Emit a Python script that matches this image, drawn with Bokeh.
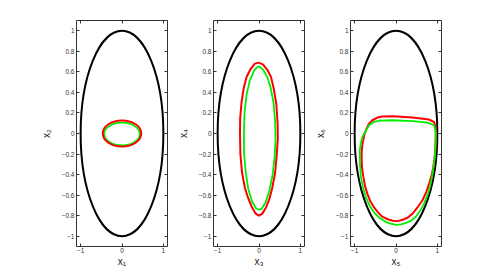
from bokeh.plotting import figure
from bokeh.layouts import row
from bokeh.models import LinearAxis, FixedTicker, Range1d, CustomJSTickFormatter
from bokeh.embed import file_html
from bokeh.resources import INLINE

# ---- data ----
x_ticks = [-1, 0, 1]
x_tick_labels = ["\u22121", "0", "1"]
y_ticks = [-1, -0.8, -0.6, -0.4, -0.2, 0, 0.2, 0.4, 0.6, 0.8, 1]
y_tick_labels = ["\u22121", "\u22120.8", "\u22120.6", "\u22120.4", "\u22120.2", "0",
                 "0.2", "0.4", "0.6", "0.8", "1"]

x_labels = ["x\u2081", "x\u2083", "x\u2085"]
y_labels = ["x\u2082", "x\u2084", "x\u2086"]

# outer (black) ellipse: full width, full height
outer_w = 2.0
outer_h = 2.0

# panel 1: red and green ellipses (center x, center y, width, height)
p1_red = dict(x=[0.0], y=[0.0], w=[0.93], h=[0.255])
p1_green = dict(x=[0.0], y=[-0.005], w=[0.86], h=[0.22])

# panel 2: red and green closed curves (x4 vs x3)
p2_red_x = [0.0, 0.1, 0.2, 0.29, 0.36, 0.42, 0.45, 0.455, 0.43, 0.39, 0.32, 0.25, 0.17, 0.08, 0.0,
            -0.08, -0.18, -0.27, -0.34, -0.41, -0.45, -0.46, -0.455, -0.42, -0.37, -0.30, -0.2, -0.1, 0.0]
p2_red_y = [0.69, 0.67, 0.62, 0.55, 0.43, 0.28, 0.1, -0.05, -0.2, -0.38, -0.53, -0.64, -0.72, -0.78, -0.80,
            -0.78, -0.71, -0.62, -0.53, -0.38, -0.2, 0.0, 0.15, 0.31, 0.44, 0.55, 0.63, 0.68, 0.69]
p2_green_x = [0.0, 0.1, 0.2, 0.28, 0.35, 0.39, 0.40, 0.38, 0.33, 0.25, 0.15, 0.06, 0.0,
              -0.07, -0.17, -0.26, -0.32, -0.36, -0.365, -0.35, -0.30, -0.22, -0.12, -0.05, 0.0]
p2_green_y = [0.655, 0.62, 0.55, 0.45, 0.3, 0.12, -0.05, -0.22, -0.4, -0.56, -0.68, -0.735, -0.74,
              -0.73, -0.66, -0.54, -0.38, -0.2, 0.0, 0.2, 0.38, 0.52, 0.61, 0.645, 0.655]

# panel 3: red and green closed curves (x6 vs x5)
p3_red_x = [-0.81, -0.77, -0.73, -0.66, -0.57, -0.45, -0.33, -0.08, 0.40, 0.80, 0.92, 0.96, 0.96,
            0.955, 0.95, 0.93, 0.90, 0.86, 0.80, 0.73, 0.64, 0.52, 0.40, 0.28, 0.16, 0.04, -0.08,
            -0.20, -0.33, -0.43, -0.53, -0.62, -0.69, -0.75, -0.79, -0.82, -0.83, -0.83, -0.81]
p3_red_y = [-0.10, -0.02, 0.031, 0.09, 0.129, 0.155, 0.165, 0.168, 0.155, 0.136, 0.112, 0.063, -0.034,
            -0.10, -0.16, -0.25, -0.33, -0.41, -0.49, -0.57, -0.65, -0.72, -0.78, -0.82, -0.84, -0.853, -0.85,
            -0.835, -0.81, -0.77, -0.72, -0.66, -0.59, -0.51, -0.42, -0.34, -0.26, -0.18, -0.10]
p3_green_x = [-0.85, -0.82, -0.77, -0.65, -0.55, -0.4, -0.08, 0.40, 0.76, 0.92, 0.96, 0.96, 0.945,
              0.92, 0.88, 0.82, 0.76, 0.68, 0.58, 0.48, 0.36, 0.24, 0.12, 0.0, -0.13, -0.25, -0.40,
              -0.53, -0.64, -0.73, -0.80, -0.85, -0.87, -0.875, -0.85]
p3_green_y = [-0.1, -0.04, 0.0, 0.08, 0.11, 0.125, 0.129, 0.12, 0.106, 0.08, 0.015, -0.1, -0.2,
              -0.29, -0.40, -0.52, -0.60, -0.68, -0.755, -0.81, -0.85, -0.87, -0.885, -0.89, -0.878, -0.86,
              -0.82, -0.77, -0.70, -0.62, -0.52, -0.42, -0.30, -0.16, -0.1]

RED = "#ff0000"
GREEN = "#00ee00"
FONT = "Liberation Sans"


def make_fig(xl, yl, border_left, border_right):
    p = figure(output_backend="svg", toolbar_location=None,
               frame_width=91, frame_height=226,
               min_border_left=border_left, min_border_right=border_right,
               min_border_top=20, min_border_bottom=18,
               x_range=Range1d(-1.1, 1.1), y_range=Range1d(-1.1, 1.1),
               x_axis_location=None, y_axis_location=None,
               background_fill_color="white", border_fill_color="white")
    p.grid.visible = False
    p.outline_line_color = "#333333"
    p.outline_line_width = 1

    def style(ax, ticks, labels, show):
        ax.ticker = FixedTicker(ticks=ticks)
        ax.major_tick_in = 3
        ax.major_tick_out = 0
        ax.minor_tick_line_color = None
        ax.axis_line_color = None
        ax.major_tick_line_color = "#333333"
        ax.major_label_text_font = FONT
        ax.major_label_text_font_size = "6.5px"
        ax.major_label_text_color = "#333333"
        if show:
            ax.major_label_overrides = {t: s for t, s in zip(ticks, labels)}
            ax.major_label_standoff = 2
        else:
            ax.formatter = CustomJSTickFormatter(code="return ''")
            ax.major_label_standoff = 0
            ax.major_label_text_font_size = "1px"

    bottom = LinearAxis(axis_label=xl)
    style(bottom, x_ticks, x_tick_labels, True)
    bottom.major_label_standoff = 1
    bottom.axis_label_text_font = FONT
    bottom.axis_label_text_font_size = "10px"
    bottom.axis_label_text_font_style = "normal"
    bottom.axis_label_standoff = 0
    bottom.axis_label_text_color = "#222222"
    p.add_layout(bottom, "below")

    left = LinearAxis(axis_label=yl)
    style(left, y_ticks, y_tick_labels, True)
    left.axis_label_text_font = FONT
    left.axis_label_text_font_size = "10px"
    left.axis_label_text_font_style = "normal"
    left.axis_label_standoff = 7
    left.axis_label_text_color = "#222222"
    p.add_layout(left, "left")

    top = LinearAxis()
    style(top, x_ticks, x_tick_labels, False)
    p.add_layout(top, "above")
    right = LinearAxis()
    style(right, y_ticks, y_tick_labels, False)
    p.add_layout(right, "right")

    p.ellipse(x=[0], y=[0], width=[outer_w], height=[outer_h],
              fill_color=None, line_color="black", line_width=2)
    return p


f1 = make_fig(x_labels[0], y_labels[0], 76, 7)
f1.ellipse(x=p1_green["x"], y=p1_green["y"], width=p1_green["w"], height=p1_green["h"],
           fill_color=None, line_color=GREEN, line_width=1.8)
f1.ellipse(x=p1_red["x"], y=p1_red["y"], width=p1_red["w"], height=p1_red["h"],
           fill_color=None, line_color=RED, line_width=2)

f2 = make_fig(x_labels[1], y_labels[1], 38, 7)
f2.line(p2_red_x, p2_red_y, line_color=RED, line_width=2, line_join="round")
f2.line(p2_green_x, p2_green_y, line_color=GREEN, line_width=1.8, line_join="round")

f3 = make_fig(x_labels[2], y_labels[2], 34, 7)
f3.line(p3_red_x, p3_red_y, line_color=RED, line_width=2, line_join="round")
f3.line(p3_green_x, p3_green_y, line_color=GREEN, line_width=1.8, line_join="round")

layout = row(f1, f2, f3)
open("out.html", "w").write(file_html(layout, INLINE))
